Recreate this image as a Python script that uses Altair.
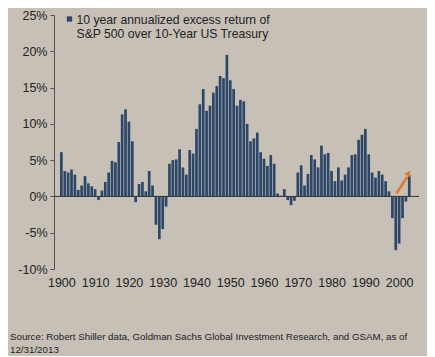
import altair as alt
import pandas as pd

years = list(range(1900, 2004))
excess_return = [
    6.1, 3.5, 3.3, 3.7, 3.0, 0.9, 1.5, 2.8, 1.8, 1.4,
    1.0, -0.5, 0.8, 2.0, 3.3, 4.9, 4.7, 7.5, 11.3, 12.0,
    10.3, 7.6, -0.8, 1.7, 2.0, 0.7, 3.5, 1.5, -3.9, -5.9,
    -4.5, -1.4, 4.5, 5.0, 5.1, 6.5, 4.0, 3.0, 6.4, 5.9,
    9.3, 12.7, 14.8, 11.8, 12.5, 14.3, 15.2, 16.6, 16.3, 19.5,
    16.0, 14.8, 12.5, 13.3, 13.1, 10.0, 7.6, 8.0, 8.8, 6.1,
    5.2, 4.2, 5.7, 4.5, 0.4, 0.1, 1.0, -0.5, -1.2, -0.6,
    3.3, 4.3, 1.5, 3.1, 5.7, 5.1, 4.0, 7.0, 5.8, 6.0,
    3.5, 2.1, 4.0, 2.2, 3.0, 4.0, 5.7, 5.8, 7.8, 8.5,
    9.3, 5.8, 3.3, 2.6, 3.5, 3.0, 2.1, 0.7, -3.0, -7.4,
    -6.5, -3.0, -0.7, 2.9,
]
x_ticks = [1900, 1910, 1920, 1930, 1940, 1950, 1960, 1970, 1980, 1990, 2000]
y_ticks = [-10, -5, 0, 5, 10, 15, 20, 25]
arrow_x = [1999.2, 2002.4]
arrow_y = [0.4, 2.7]
arrow_head_x = [2002.8]
arrow_head_y = [3.2]
legend_lines = ["10 year annualized excess return of", "S&P 500 over 10-Year US Treasury"]
source_lines = [
    "Source: Robert Shiller data, Goldman Sachs Global Investment Research, and GSAM, as of",
    "12/31/2013",
]

FONT = "Liberation Sans"
BAR = "#2d4769"
TXT = "#232323"

df = pd.DataFrame({"year": years, "value": excess_return})

xscale = alt.Scale(domain=[1899.3, 2004.4], nice=False, zero=False)
yscale = alt.Scale(domain=[-10, 25], nice=False)
xaxis = alt.Axis(values=x_ticks, format="d", title=None, domain=False,
                 ticks=False, grid=False, labelFont=FONT, labelFontSize=12.5,
                 labelColor=TXT, labelPadding=7, labelOverlap=False, labelFlush=False)
yaxis = alt.Axis(values=y_ticks, title=None, grid=False, domainColor="#555",
                 tickColor="#555", tickSize=4, labelFont=FONT, labelFontSize=12.5,
                 labelColor=TXT, labelPadding=3, labelOverlap=False, labelFlush=False,
                 labelExpr="datum.value + '%'")

bars = alt.Chart(df).mark_bar(width=2.7, color=BAR, orient="vertical").encode(
    x=alt.X("year:Q", scale=xscale, axis=xaxis),
    y=alt.Y("value:Q", scale=yscale, axis=yaxis),
)

zero = alt.Chart(pd.DataFrame({"z": [0]})).mark_rule(color="#333", strokeWidth=1).encode(
    y=alt.Y("z:Q", scale=yscale, axis=yaxis)
)

arrow_df = pd.DataFrame({"x": [arrow_x[0]], "x2": [arrow_x[1]], "y": [arrow_y[0]], "y2": [arrow_y[1]]})
arrow = alt.Chart(arrow_df).mark_rule(color="#e07a2c", strokeWidth=2.6).encode(
    x=alt.X("x:Q", scale=xscale, axis=xaxis), x2="x2:Q",
    y=alt.Y("y:Q", scale=yscale, axis=yaxis), y2="y2:Q",
)
head = alt.Chart(pd.DataFrame({"x": arrow_head_x, "y": arrow_head_y})).mark_point(
    shape="triangle-up", filled=True, color="#e07a2c", size=45, angle=33, opacity=1
).encode(x=alt.X("x:Q", scale=xscale, axis=xaxis), y=alt.Y("y:Q", scale=yscale, axis=yaxis))

legend_sq = alt.Chart(pd.DataFrame({"a": [0]})).mark_square(color=BAR, size=28, opacity=1).encode(
    x=alt.value(15.5), y=alt.value(4)
)
legend_txt = alt.Chart(pd.DataFrame({"a": [0]})).mark_text(
    text=legend_lines, align="left", baseline="alphabetic", font=FONT, fontSize=12.2,
    color=TXT, lineHeight=14
).encode(x=alt.value(22.5), y=alt.value(9))

source_txt = alt.Chart(pd.DataFrame({"a": [0]})).mark_text(
    text=source_lines, align="left", baseline="alphabetic", font=FONT, fontSize=9.75,
    color=TXT, lineHeight=13
).encode(x=alt.value(-44), y=alt.value(324.5))

chart = alt.layer(bars, zero, arrow, head, legend_sq, legend_txt, source_txt).properties(
    width=365, height=254,
    autosize=alt.AutoSizeParams(type="none"),
    padding={"left": 46, "top": 7, "right": 8, "bottom": 87},
    background="#c6c0b7",
).configure_view(stroke=None)

chart.save("out.html", embed_options={"renderer": "svg", "actions": False})
